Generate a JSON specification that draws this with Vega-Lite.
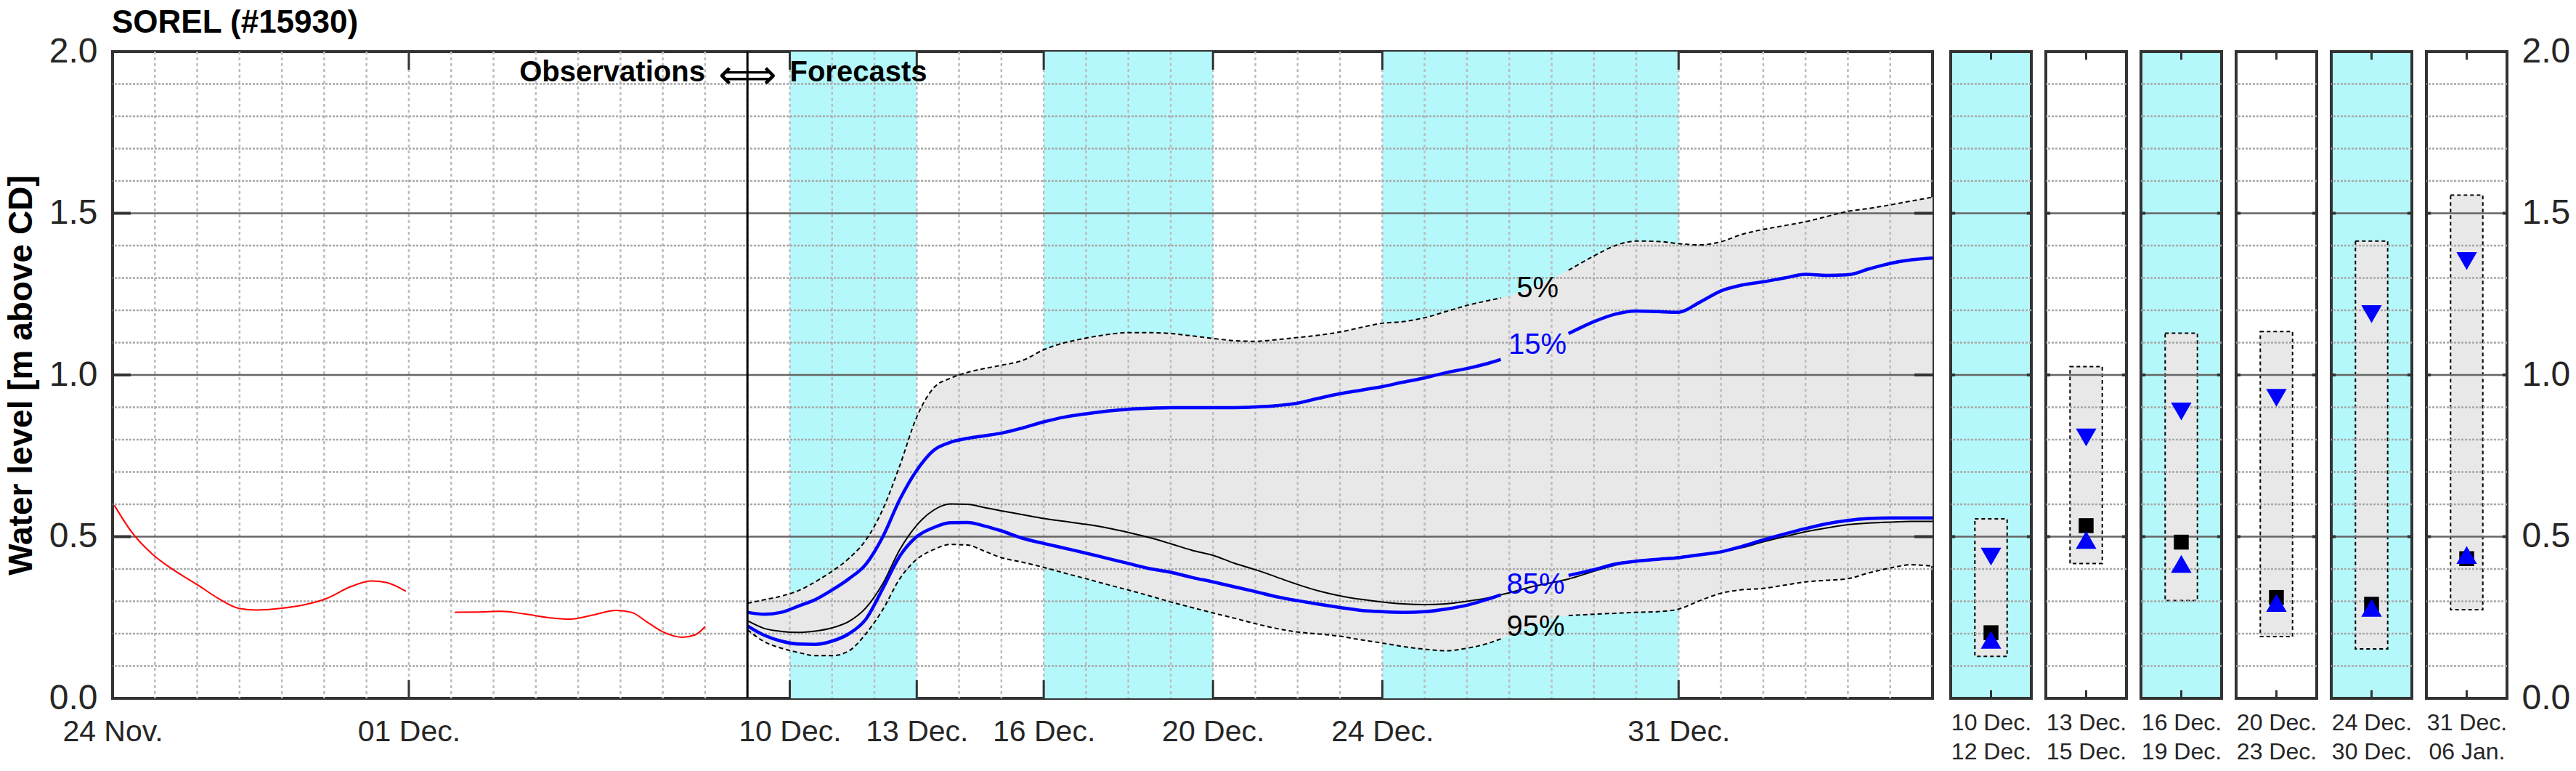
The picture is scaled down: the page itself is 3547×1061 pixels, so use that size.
{
 "$schema": "https://vega.github.io/schema/vega-lite/v6.json",
 "background": "white",
 "padding": {"left": 4, "top": 8, "right": 3, "bottom": 0},
 "config": {
  "font": "Liberation Sans",
  "view": {"stroke": "#333333", "strokeWidth": 4, "fill": "white"},
  "axis": {"domain": false, "ticks": false, "grid": false, "labelColor": "#262626", "titleColor": "#262626", "labelFont": "Liberation Sans", "titleFont": "Liberation Sans"}
 },
 "datasets": {
  "bands": [{"s": "2023-12-10T00:00", "e": "2023-12-13T00:00"}, {"s": "2023-12-16T00:00", "e": "2023-12-20T00:00"}, {"s": "2023-12-24T00:00", "e": "2023-12-31T00:00"}],
  "days": [{"t": "2023-11-25T00:00"}, {"t": "2023-11-26T00:00"}, {"t": "2023-11-27T00:00"}, {"t": "2023-11-28T00:00"}, {"t": "2023-11-29T00:00"}, {"t": "2023-11-30T00:00"}, {"t": "2023-12-01T00:00"}, {"t": "2023-12-02T00:00"}, {"t": "2023-12-03T00:00"}, {"t": "2023-12-04T00:00"}, {"t": "2023-12-05T00:00"}, {"t": "2023-12-06T00:00"}, {"t": "2023-12-07T00:00"}, {"t": "2023-12-08T00:00"}, {"t": "2023-12-09T00:00"}, {"t": "2023-12-10T00:00"}, {"t": "2023-12-11T00:00"}, {"t": "2023-12-12T00:00"}, {"t": "2023-12-13T00:00"}, {"t": "2023-12-14T00:00"}, {"t": "2023-12-15T00:00"}, {"t": "2023-12-16T00:00"}, {"t": "2023-12-17T00:00"}, {"t": "2023-12-18T00:00"}, {"t": "2023-12-19T00:00"}, {"t": "2023-12-20T00:00"}, {"t": "2023-12-21T00:00"}, {"t": "2023-12-22T00:00"}, {"t": "2023-12-23T00:00"}, {"t": "2023-12-24T00:00"}, {"t": "2023-12-25T00:00"}, {"t": "2023-12-26T00:00"}, {"t": "2023-12-27T00:00"}, {"t": "2023-12-28T00:00"}, {"t": "2023-12-29T00:00"}, {"t": "2023-12-30T00:00"}, {"t": "2023-12-31T00:00"}, {"t": "2024-01-01T00:00"}, {"t": "2024-01-02T00:00"}, {"t": "2024-01-03T00:00"}, {"t": "2024-01-04T00:00"}, {"t": "2024-01-05T00:00"}],
  "hminor": [{"v": 0.1}, {"v": 0.2}, {"v": 0.3}, {"v": 0.4}, {"v": 0.6}, {"v": 0.7}, {"v": 0.8}, {"v": 0.9}, {"v": 1.1}, {"v": 1.2}, {"v": 1.3}, {"v": 1.4}, {"v": 1.6}, {"v": 1.7}, {"v": 1.8}, {"v": 1.9}],
  "hmajor": [{"v": 0.5}, {"v": 1.0}, {"v": 1.5}],
  "xticks": [{"t": "2023-12-01T00:00"}, {"t": "2023-12-10T00:00"}, {"t": "2023-12-13T00:00"}, {"t": "2023-12-16T00:00"}, {"t": "2023-12-20T00:00"}, {"t": "2023-12-24T00:00"}, {"t": "2023-12-31T00:00"}],
  "obs": [
   {"t": "2023-11-24T01:00", "v": 0.597, "seg": 1}, {"t": "2023-11-24T11:00", "v": 0.513, "seg": 1}, {"t": "2023-11-24T22:30", "v": 0.446, "seg": 1}, {"t": "2023-11-25T10:20", "v": 0.398, "seg": 1}, {"t": "2023-11-26T00:45", "v": 0.349, "seg": 1}, {"t": "2023-11-26T12:15", "v": 0.308, "seg": 1}, {"t": "2023-11-26T23:45", "v": 0.278, "seg": 1}, {"t": "2023-11-27T09:50", "v": 0.273, "seg": 1}, {"t": "2023-11-27T22:50", "v": 0.278, "seg": 1}, {"t": "2023-11-28T13:10", "v": 0.290, "seg": 1}, {"t": "2023-11-29T01:00", "v": 0.308, "seg": 1}, {"t": "2023-11-29T15:20", "v": 0.346, "seg": 1}, {"t": "2023-11-30T02:50", "v": 0.363, "seg": 1}, {"t": "2023-11-30T11:30", "v": 0.358, "seg": 1}, {"t": "2023-11-30T22:20", "v": 0.331, "seg": 1},
   {"t": "2023-12-02T02:00", "v": 0.266, "seg": 2}, {"t": "2023-12-02T15:35", "v": 0.267, "seg": 2}, {"t": "2023-12-03T04:30", "v": 0.269, "seg": 2}, {"t": "2023-12-03T17:30", "v": 0.261, "seg": 2}, {"t": "2023-12-04T08:00", "v": 0.249, "seg": 2}, {"t": "2023-12-04T19:40", "v": 0.245, "seg": 2}, {"t": "2023-12-05T07:10", "v": 0.256, "seg": 2}, {"t": "2023-12-05T21:35", "v": 0.272, "seg": 2}, {"t": "2023-12-06T06:15", "v": 0.266, "seg": 2}, {"t": "2023-12-06T14:50", "v": 0.237, "seg": 2}, {"t": "2023-12-06T23:30", "v": 0.207, "seg": 2}, {"t": "2023-12-07T11:00", "v": 0.189, "seg": 2}, {"t": "2023-12-07T18:15", "v": 0.196, "seg": 2}, {"t": "2023-12-08T00:00", "v": 0.222, "seg": 2}
  ],
  "fc": [
   {"t": "2023-12-09T00:00", "p5": 0.294, "p15": 0.266, "p50": 0.240, "p85": 0.224, "p95": 0.212},
   {"t": "2023-12-09T09:36", "p5": 0.305, "p15": 0.260, "p50": 0.216, "p85": 0.195, "p95": 0.175},
   {"t": "2023-12-09T19:12", "p5": 0.316, "p15": 0.266, "p50": 0.207, "p85": 0.177, "p95": 0.155},
   {"t": "2023-12-10T04:48", "p5": 0.333, "p15": 0.285, "p50": 0.204, "p85": 0.168, "p95": 0.142},
   {"t": "2023-12-10T14:24", "p5": 0.360, "p15": 0.305, "p50": 0.208, "p85": 0.167, "p95": 0.132},
   {"t": "2023-12-11T00:00", "p5": 0.393, "p15": 0.335, "p50": 0.218, "p85": 0.177, "p95": 0.132},
   {"t": "2023-12-11T09:36", "p5": 0.433, "p15": 0.370, "p50": 0.238, "p85": 0.200, "p95": 0.147},
   {"t": "2023-12-11T19:12", "p5": 0.490, "p15": 0.415, "p50": 0.280, "p85": 0.245, "p95": 0.200},
   {"t": "2023-12-12T04:48", "p5": 0.585, "p15": 0.500, "p50": 0.355, "p85": 0.340, "p95": 0.275},
   {"t": "2023-12-12T14:24", "p5": 0.720, "p15": 0.615, "p50": 0.460, "p85": 0.440, "p95": 0.370},
   {"t": "2023-12-13T00:00", "p5": 0.870, "p15": 0.705, "p50": 0.535, "p85": 0.500, "p95": 0.430},
   {"t": "2023-12-13T09:36", "p5": 0.960, "p15": 0.767, "p50": 0.582, "p85": 0.528, "p95": 0.460},
   {"t": "2023-12-13T19:12", "p5": 0.990, "p15": 0.792, "p50": 0.601, "p85": 0.543, "p95": 0.476},
   {"t": "2023-12-14T04:48", "p5": 1.008, "p15": 0.804, "p50": 0.600, "p85": 0.544, "p95": 0.474},
   {"t": "2023-12-14T14:24", "p5": 1.020, "p15": 0.812, "p50": 0.590, "p85": 0.533, "p95": 0.455},
   {"t": "2023-12-15T00:00", "p5": 1.030, "p15": 0.820, "p50": 0.580, "p85": 0.518, "p95": 0.435},
   {"t": "2023-12-15T12:00", "p5": 1.045, "p15": 0.836, "p50": 0.568, "p85": 0.495, "p95": 0.421},
   {"t": "2023-12-16T00:00", "p5": 1.078, "p15": 0.855, "p50": 0.556, "p85": 0.479, "p95": 0.405},
   {"t": "2023-12-16T12:00", "p5": 1.100, "p15": 0.870, "p50": 0.547, "p85": 0.464, "p95": 0.387},
   {"t": "2023-12-17T00:00", "p5": 1.114, "p15": 0.880, "p50": 0.538, "p85": 0.449, "p95": 0.370},
   {"t": "2023-12-17T12:00", "p5": 1.125, "p15": 0.888, "p50": 0.527, "p85": 0.433, "p95": 0.352},
   {"t": "2023-12-18T00:00", "p5": 1.131, "p15": 0.894, "p50": 0.513, "p85": 0.417, "p95": 0.335},
   {"t": "2023-12-18T12:00", "p5": 1.131, "p15": 0.897, "p50": 0.497, "p85": 0.401, "p95": 0.317},
   {"t": "2023-12-19T00:00", "p5": 1.128, "p15": 0.899, "p50": 0.478, "p85": 0.390, "p95": 0.298},
   {"t": "2023-12-19T12:00", "p5": 1.121, "p15": 0.899, "p50": 0.458, "p85": 0.374, "p95": 0.281},
   {"t": "2023-12-20T00:00", "p5": 1.113, "p15": 0.899, "p50": 0.442, "p85": 0.360, "p95": 0.264},
   {"t": "2023-12-20T12:00", "p5": 1.106, "p15": 0.899, "p50": 0.418, "p85": 0.345, "p95": 0.248},
   {"t": "2023-12-21T00:00", "p5": 1.104, "p15": 0.901, "p50": 0.398, "p85": 0.330, "p95": 0.231},
   {"t": "2023-12-21T12:00", "p5": 1.109, "p15": 0.905, "p50": 0.375, "p85": 0.314, "p95": 0.216},
   {"t": "2023-12-22T00:00", "p5": 1.116, "p15": 0.913, "p50": 0.352, "p85": 0.302, "p95": 0.205},
   {"t": "2023-12-22T12:00", "p5": 1.123, "p15": 0.928, "p50": 0.332, "p85": 0.291, "p95": 0.199},
   {"t": "2023-12-23T00:00", "p5": 1.133, "p15": 0.942, "p50": 0.317, "p85": 0.281, "p95": 0.192},
   {"t": "2023-12-23T12:00", "p5": 1.147, "p15": 0.953, "p50": 0.306, "p85": 0.272, "p95": 0.181},
   {"t": "2023-12-24T00:00", "p5": 1.160, "p15": 0.964, "p50": 0.298, "p85": 0.268, "p95": 0.171},
   {"t": "2023-12-24T12:00", "p5": 1.165, "p15": 0.978, "p50": 0.292, "p85": 0.266, "p95": 0.160},
   {"t": "2023-12-25T00:00", "p5": 1.177, "p15": 0.991, "p50": 0.290, "p85": 0.268, "p95": 0.152},
   {"t": "2023-12-25T12:00", "p5": 1.196, "p15": 1.007, "p50": 0.292, "p85": 0.276, "p95": 0.147},
   {"t": "2023-12-26T00:00", "p5": 1.215, "p15": 1.020, "p50": 0.300, "p85": 0.288, "p95": 0.155},
   {"t": "2023-12-26T12:00", "p5": 1.230, "p15": 1.036, "p50": 0.311, "p85": 0.307, "p95": 0.170},
   {"t": "2023-12-26T19:12", "p5": 1.238, "p15": 1.048, "p50": 0.320, "p85": 0.320, "p95": 0.184},
   {"t": "2023-12-27T14:24", "p5": null, "p15": null, "p50": 0.347, "p85": null, "p95": null},
   {"t": "2023-12-28T09:36", "p5": 1.324, "p15": 1.128, "p50": 0.369, "p85": 0.380, "p95": 0.256},
   {"t": "2023-12-29T00:00", "p5": 1.368, "p15": 1.165, "p50": 0.393, "p85": 0.398, "p95": 0.260},
   {"t": "2023-12-29T12:00", "p5": 1.400, "p15": 1.188, "p50": 0.412, "p85": 0.415, "p95": 0.263},
   {"t": "2023-12-30T00:00", "p5": 1.414, "p15": 1.198, "p50": 0.424, "p85": 0.424, "p95": 0.266},
   {"t": "2023-12-30T12:00", "p5": 1.413, "p15": 1.196, "p50": 0.431, "p85": 0.430, "p95": 0.268},
   {"t": "2023-12-31T00:00", "p5": 1.406, "p15": 1.194, "p50": 0.437, "p85": 0.435, "p95": 0.276},
   {"t": "2023-12-31T12:00", "p5": 1.402, "p15": 1.225, "p50": 0.445, "p85": 0.444, "p95": 0.302},
   {"t": "2024-01-01T00:00", "p5": 1.412, "p15": 1.260, "p50": 0.452, "p85": 0.453, "p95": 0.325},
   {"t": "2024-01-01T12:00", "p5": 1.435, "p15": 1.278, "p50": 0.466, "p85": 0.470, "p95": 0.336},
   {"t": "2024-01-02T00:00", "p5": 1.450, "p15": 1.288, "p50": 0.484, "p85": 0.490, "p95": 0.340},
   {"t": "2024-01-02T12:00", "p5": 1.462, "p15": 1.300, "p50": 0.500, "p85": 0.508, "p95": 0.350},
   {"t": "2024-01-03T00:00", "p5": 1.474, "p15": 1.311, "p50": 0.515, "p85": 0.525, "p95": 0.360},
   {"t": "2024-01-03T12:00", "p5": 1.490, "p15": 1.308, "p50": 0.527, "p85": 0.540, "p95": 0.365},
   {"t": "2024-01-04T00:00", "p5": 1.506, "p15": 1.310, "p50": 0.537, "p85": 0.550, "p95": 0.370},
   {"t": "2024-01-04T12:00", "p5": 1.515, "p15": 1.328, "p50": 0.542, "p85": 0.556, "p95": 0.388},
   {"t": "2024-01-05T00:00", "p5": 1.526, "p15": 1.345, "p50": 0.545, "p85": 0.558, "p95": 0.403},
   {"t": "2024-01-05T12:00", "p5": 1.538, "p15": 1.356, "p50": 0.547, "p85": 0.558, "p95": 0.413},
   {"t": "2024-01-06T00:00", "p5": 1.550, "p15": 1.362, "p50": 0.547, "p85": 0.558, "p95": 0.409}
  ],
  "pct": [
   {"t": "2023-12-27T16:00", "v": 1.268, "lab": "5%", "s": "p5"},
   {"t": "2023-12-27T16:00", "v": 1.093, "lab": "15%", "s": "p15"},
   {"t": "2023-12-27T15:00", "v": 0.350, "lab": "85%", "s": "p85"},
   {"t": "2023-12-27T15:00", "v": 0.220, "lab": "95%", "s": "p95"}
  ],
  "panels": [
   {"p": 1, "hi": 0.555, "lo": 0.130, "q15": 0.438, "q50": 0.203, "q85": 0.181},
   {"p": 2, "hi": 1.026, "lo": 0.417, "q15": 0.807, "q50": 0.534, "q85": 0.490},
   {"p": 3, "hi": 1.129, "lo": 0.302, "q15": 0.887, "q50": 0.483, "q85": 0.416},
   {"p": 4, "hi": 1.134, "lo": 0.191, "q15": 0.929, "q50": 0.312, "q85": 0.295},
   {"p": 5, "hi": 1.414, "lo": 0.153, "q15": 1.188, "q50": 0.291, "q85": 0.280},
   {"p": 6, "hi": 1.556, "lo": 0.274, "q15": 1.352, "q50": 0.432, "q85": 0.443}
  ]
 },
 "spacing": 25,
 "bounds": "flush",
 "hconcat": [
  {
   "width": 2506, "height": 890,
   "title": {"text": "SOREL (#15930)", "anchor": "start", "frame": "group", "fontSize": 44, "fontWeight": "bold", "color": "black", "baseline": "alphabetic", "offset": -42, "dx": -1, "font": "Liberation Sans"},
   "layer": [
    {"data": {"name": "bands"}, "mark": {"type": "rect", "color": "#b4f8fb"},
     "encoding": {"x": {"field": "s", "type": "temporal", "scale": {"domain": [{"year": 2023, "month": 11, "date": 24}, {"year": 2024, "month": 1, "date": 6}], "nice": false},
       "axis": {"orient": "bottom", "values": [{"year": 2023, "month": 11, "date": 24}, {"year": 2023, "month": 12, "date": 1}, {"year": 2023, "month": 12, "date": 10}, {"year": 2023, "month": 12, "date": 13}, {"year": 2023, "month": 12, "date": 16}, {"year": 2023, "month": 12, "date": 20}, {"year": 2023, "month": 12, "date": 24}, {"year": 2023, "month": 12, "date": 31}], "labelExpr": "timeFormat(datum.value, '%d %b.')", "labelFontSize": 41, "labelPadding": 26, "labelFlush": false, "labelOverlap": false, "labelBound": false, "title": null, "domain": false, "ticks": false, "grid": false}},
      "x2": {"field": "e"}}},
    {"data": {"name": "fc"}, "mark": {"type": "area", "color": "#e8e8e8", "interpolate": "monotone", "invalid": "filter"},
     "encoding": {"x": {"field": "t", "type": "temporal", "scale": {"domain": [{"year": 2023, "month": 11, "date": 24}, {"year": 2024, "month": 1, "date": 6}], "nice": false}},
      "y": {"field": "p95", "type": "quantitative", "scale": {"domain": [0, 2], "nice": false},
       "axis": {"orient": "left", "values": [0, 0.5, 1, 1.5, 2], "format": ".1f", "labelFontSize": 48, "labelPadding": 21, "title": "Water level [m above CD]", "titleFontSize": 46, "titleFontWeight": "bold", "titleColor": "black", "titlePadding": 14, "domain": false, "ticks": false, "grid": false}}, "y2": {"field": "p5"}}},
    {"data": {"name": "days"}, "mark": {"type": "rule", "color": "#bdbdbd", "strokeWidth": 2.5, "strokeDash": [4, 4]},
     "encoding": {"x": {"field": "t", "type": "temporal", "scale": {"domain": [{"year": 2023, "month": 11, "date": 24}, {"year": 2024, "month": 1, "date": 6}], "nice": false}}}},
    {"data": {"name": "hminor"}, "mark": {"type": "rule", "color": "#a8a8a8", "strokeWidth": 2.5, "strokeDash": [3, 2]},
     "encoding": {"y": {"field": "v", "type": "quantitative", "scale": {"domain": [0, 2], "nice": false}}}},
    {"data": {"name": "hmajor"}, "mark": {"type": "rule", "color": "#666666", "strokeWidth": 2.5},
     "encoding": {"y": {"field": "v", "type": "quantitative", "scale": {"domain": [0, 2], "nice": false}}}},
    {"data": {"name": "obs"}, "mark": {"type": "line", "color": "#ff0000", "strokeWidth": 2, "interpolate": "monotone"},
     "encoding": {"x": {"field": "t", "type": "temporal", "scale": {"domain": [{"year": 2023, "month": 11, "date": 24}, {"year": 2024, "month": 1, "date": 6}], "nice": false}},
      "y": {"field": "v", "type": "quantitative", "scale": {"domain": [0, 2], "nice": false}}, "detail": {"field": "seg", "type": "nominal"}}},
    {"data": {"name": "fc"}, "mark": {"type": "line", "color": "#000000", "strokeWidth": 2, "strokeDash": [6, 4], "interpolate": "monotone"},
     "encoding": {"x": {"field": "t", "type": "temporal", "scale": {"domain": [{"year": 2023, "month": 11, "date": 24}, {"year": 2024, "month": 1, "date": 6}], "nice": false}},
      "y": {"field": "p95", "type": "quantitative", "scale": {"domain": [0, 2], "nice": false}}}},
    {"data": {"name": "fc"}, "mark": {"type": "line", "color": "#000000", "strokeWidth": 2, "strokeDash": [6, 4], "interpolate": "monotone"},
     "encoding": {"x": {"field": "t", "type": "temporal", "scale": {"domain": [{"year": 2023, "month": 11, "date": 24}, {"year": 2024, "month": 1, "date": 6}], "nice": false}},
      "y": {"field": "p5", "type": "quantitative", "scale": {"domain": [0, 2], "nice": false}}}},
    {"data": {"name": "fc"}, "mark": {"type": "line", "color": "#000000", "strokeWidth": 2, "interpolate": "monotone"},
     "encoding": {"x": {"field": "t", "type": "temporal", "scale": {"domain": [{"year": 2023, "month": 11, "date": 24}, {"year": 2024, "month": 1, "date": 6}], "nice": false}},
      "y": {"field": "p50", "type": "quantitative", "scale": {"domain": [0, 2], "nice": false}}}},
    {"data": {"name": "fc"}, "mark": {"type": "line", "color": "#0000ff", "strokeWidth": 4.5, "interpolate": "monotone"},
     "encoding": {"x": {"field": "t", "type": "temporal", "scale": {"domain": [{"year": 2023, "month": 11, "date": 24}, {"year": 2024, "month": 1, "date": 6}], "nice": false}},
      "y": {"field": "p85", "type": "quantitative", "scale": {"domain": [0, 2], "nice": false}}}},
    {"data": {"name": "fc"}, "mark": {"type": "line", "color": "#0000ff", "strokeWidth": 4.5, "interpolate": "monotone"},
     "encoding": {"x": {"field": "t", "type": "temporal", "scale": {"domain": [{"year": 2023, "month": 11, "date": 24}, {"year": 2024, "month": 1, "date": 6}], "nice": false}},
      "y": {"field": "p15", "type": "quantitative", "scale": {"domain": [0, 2], "nice": false}}}},
    {"data": {"name": "pct"}, "mark": {"type": "text", "fontSize": 40, "align": "center", "baseline": "middle", "font": "Liberation Sans"},
     "encoding": {"x": {"field": "t", "type": "temporal", "scale": {"domain": [{"year": 2023, "month": 11, "date": 24}, {"year": 2024, "month": 1, "date": 6}], "nice": false}},
      "y": {"field": "v", "type": "quantitative", "scale": {"domain": [0, 2], "nice": false}},
      "text": {"field": "lab"},
      "color": {"field": "s", "type": "nominal", "scale": {"domain": ["p5", "p15", "p85", "p95"], "range": ["#000000", "#0000ff", "#0000ff", "#000000"]}, "legend": null}}},
    {"data": {"values": [{}]}, "mark": {"type": "rule", "color": "#000000", "strokeWidth": 3},
     "encoding": {"x": {"datum": {"year": 2023, "month": 12, "date": 9}, "type": "temporal", "scale": {"domain": [{"year": 2023, "month": 11, "date": 24}, {"year": 2024, "month": 1, "date": 6}], "nice": false}}}},
    {"data": {"name": "xticks"}, "mark": {"type": "rule", "color": "#333333", "strokeWidth": 3},
     "encoding": {"x": {"field": "t", "type": "temporal", "scale": {"domain": [{"year": 2023, "month": 11, "date": 24}, {"year": 2024, "month": 1, "date": 6}], "nice": false}},
      "y": {"datum": 0, "type": "quantitative", "scale": {"domain": [0, 2], "nice": false}}, "y2": {"datum": 0.056}}},
    {"data": {"name": "xticks"}, "mark": {"type": "rule", "color": "#333333", "strokeWidth": 3},
     "encoding": {"x": {"field": "t", "type": "temporal", "scale": {"domain": [{"year": 2023, "month": 11, "date": 24}, {"year": 2024, "month": 1, "date": 6}], "nice": false}},
      "y": {"datum": 1.944, "type": "quantitative", "scale": {"domain": [0, 2], "nice": false}}, "y2": {"datum": 2}}},
    {"data": {"name": "hmajor"}, "mark": {"type": "rule", "color": "#333333", "strokeWidth": 4},
     "encoding": {"x": {"datum": {"year": 2023, "month": 11, "date": 24}, "type": "temporal", "scale": {"domain": [{"year": 2023, "month": 11, "date": 24}, {"year": 2024, "month": 1, "date": 6}], "nice": false}},
      "x2": {"datum": {"year": 2023, "month": 11, "date": 24, "hours": 10, "minutes": 18}},
      "y": {"field": "v", "type": "quantitative", "scale": {"domain": [0, 2], "nice": false}}}},
    {"data": {"name": "hmajor"}, "mark": {"type": "rule", "color": "#333333", "strokeWidth": 4},
     "encoding": {"x": {"datum": {"year": 2024, "month": 1, "date": 5, "hours": 13, "minutes": 42}, "type": "temporal", "scale": {"domain": [{"year": 2023, "month": 11, "date": 24}, {"year": 2024, "month": 1, "date": 6}], "nice": false}},
      "x2": {"datum": {"year": 2024, "month": 1, "date": 6}},
      "y": {"field": "v", "type": "quantitative", "scale": {"domain": [0, 2], "nice": false}}}},
    {"data": {"values": [{"t": "2023-12-08T00:00", "v": 1.908, "txt": "Observations"}]}, "mark": {"type": "text", "fontSize": 40, "fontWeight": "bold", "align": "right", "baseline": "alphabetic", "color": "#000000", "font": "Liberation Sans"},
     "encoding": {"x": {"field": "t", "type": "temporal", "scale": {"domain": [{"year": 2023, "month": 11, "date": 24}, {"year": 2024, "month": 1, "date": 6}], "nice": false}},
      "y": {"field": "v", "type": "quantitative", "scale": {"domain": [0, 2], "nice": false}}, "text": {"field": "txt"}}},
    {"data": {"values": [{"t": "2023-12-09T00:00", "v": 1.885, "txt": "⟺"}]}, "mark": {"type": "text", "fontSize": 56, "align": "center", "baseline": "alphabetic", "color": "#000000", "font": "DejaVu Sans"},
     "encoding": {"x": {"field": "t", "type": "temporal", "scale": {"domain": [{"year": 2023, "month": 11, "date": 24}, {"year": 2024, "month": 1, "date": 6}], "nice": false}},
      "y": {"field": "v", "type": "quantitative", "scale": {"domain": [0, 2], "nice": false}}, "text": {"field": "txt"}}},
    {"data": {"values": [{"t": "2023-12-10T00:00", "v": 1.908, "txt": "Forecasts"}]}, "mark": {"type": "text", "fontSize": 40, "fontWeight": "bold", "align": "left", "baseline": "alphabetic", "color": "#000000", "font": "Liberation Sans"},
     "encoding": {"x": {"field": "t", "type": "temporal", "scale": {"domain": [{"year": 2023, "month": 11, "date": 24}, {"year": 2024, "month": 1, "date": 6}], "nice": false}},
      "y": {"field": "v", "type": "quantitative", "scale": {"domain": [0, 2], "nice": false}}, "text": {"field": "txt"}}}
   ]
  },
  {
   "spacing": 20,
   "bounds": "flush",
   "hconcat": [
    {
     "width": 111, "height": 890, "view": {"fill": "#b4f8fb", "stroke": "#333333", "strokeWidth": 4},
     "layer": [
      {"data": {"name": "panels"}, "transform": [{"filter": "datum.p == 1"}], "mark": {"type": "rect", "fill": "#e8e8e8", "stroke": "#000000", "strokeWidth": 2, "strokeDash": [5, 4]},
       "encoding": {"x": {"datum": 0.3, "type": "quantitative", "scale": {"domain": [0, 1], "nice": false}, "axis": {"orient": "bottom", "labels": false, "domain": false, "ticks": false, "grid": false, "title": ["10 Dec.", "12 Dec."], "titleFontSize": 32, "titleFontWeight": "normal", "titleLineHeight": 40, "titlePadding": 18}}, "x2": {"datum": 0.7}, "y": {"field": "lo", "type": "quantitative", "scale": {"domain": [0, 2], "nice": false}, "axis": null}, "y2": {"field": "hi"}}},
      {"data": {"name": "hminor"}, "mark": {"type": "rule", "color": "#a8a8a8", "strokeWidth": 2.5, "strokeDash": [3, 2]}, "encoding": {"y": {"field": "v", "type": "quantitative", "scale": {"domain": [0, 2], "nice": false}, "axis": null}}},
      {"data": {"name": "hmajor"}, "mark": {"type": "rule", "color": "#666666", "strokeWidth": 2.5}, "encoding": {"y": {"field": "v", "type": "quantitative", "scale": {"domain": [0, 2], "nice": false}, "axis": null}}},
      {"data": {"name": "panels"}, "transform": [{"filter": "datum.p == 1"}], "mark": {"type": "point", "shape": "triangle-down", "filled": true, "color": "#0000ff", "size": 800, "opacity": 1}, "encoding": {"x": {"datum": 0.5, "type": "quantitative", "scale": {"domain": [0, 1], "nice": false}}, "y": {"field": "q15", "type": "quantitative", "scale": {"domain": [0, 2], "nice": false}, "axis": null}}},
      {"data": {"name": "panels"}, "transform": [{"filter": "datum.p == 1"}], "mark": {"type": "point", "shape": "square", "filled": true, "color": "#000000", "size": 420, "opacity": 1}, "encoding": {"x": {"datum": 0.5, "type": "quantitative", "scale": {"domain": [0, 1], "nice": false}}, "y": {"field": "q50", "type": "quantitative", "scale": {"domain": [0, 2], "nice": false}, "axis": null}}},
      {"data": {"name": "panels"}, "transform": [{"filter": "datum.p == 1"}], "mark": {"type": "point", "shape": "triangle-up", "filled": true, "color": "#0000ff", "size": 800, "opacity": 1}, "encoding": {"x": {"datum": 0.5, "type": "quantitative", "scale": {"domain": [0, 1], "nice": false}}, "y": {"field": "q85", "type": "quantitative", "scale": {"domain": [0, 2], "nice": false}, "axis": null}}},
      {"data": {"values": [{}]}, "mark": {"type": "rule", "color": "#333333", "strokeWidth": 3}, "encoding": {"x": {"datum": 0.5, "type": "quantitative", "scale": {"domain": [0, 1], "nice": false}}, "y": {"datum": 0, "type": "quantitative", "scale": {"domain": [0, 2], "nice": false}, "axis": null}, "y2": {"datum": 0.025}}},
      {"data": {"values": [{}]}, "mark": {"type": "rule", "color": "#333333", "strokeWidth": 3}, "encoding": {"x": {"datum": 0.5, "type": "quantitative", "scale": {"domain": [0, 1], "nice": false}}, "y": {"datum": 1.975, "type": "quantitative", "scale": {"domain": [0, 2], "nice": false}, "axis": null}, "y2": {"datum": 2}}},
      {"data": {"name": "hmajor"}, "mark": {"type": "rule", "color": "#333333", "strokeWidth": 4}, "encoding": {"x": {"datum": 0, "type": "quantitative", "scale": {"domain": [0, 1], "nice": false}}, "x2": {"datum": 0.055}, "y": {"field": "v", "type": "quantitative", "scale": {"domain": [0, 2], "nice": false}, "axis": null}}},
      {"data": {"name": "hmajor"}, "mark": {"type": "rule", "color": "#333333", "strokeWidth": 4}, "encoding": {"x": {"datum": 0.945, "type": "quantitative", "scale": {"domain": [0, 1], "nice": false}}, "x2": {"datum": 1}, "y": {"field": "v", "type": "quantitative", "scale": {"domain": [0, 2], "nice": false}, "axis": null}}}
     ]
    },
    {
     "width": 111, "height": 890, "view": {"fill": "white", "stroke": "#333333", "strokeWidth": 4},
     "layer": [
      {"data": {"name": "panels"}, "transform": [{"filter": "datum.p == 2"}], "mark": {"type": "rect", "fill": "#e8e8e8", "stroke": "#000000", "strokeWidth": 2, "strokeDash": [5, 4]},
       "encoding": {"x": {"datum": 0.3, "type": "quantitative", "scale": {"domain": [0, 1], "nice": false}, "axis": {"orient": "bottom", "labels": false, "domain": false, "ticks": false, "grid": false, "title": ["13 Dec.", "15 Dec."], "titleFontSize": 32, "titleFontWeight": "normal", "titleLineHeight": 40, "titlePadding": 18}}, "x2": {"datum": 0.7}, "y": {"field": "lo", "type": "quantitative", "scale": {"domain": [0, 2], "nice": false}, "axis": null}, "y2": {"field": "hi"}}},
      {"data": {"name": "hminor"}, "mark": {"type": "rule", "color": "#a8a8a8", "strokeWidth": 2.5, "strokeDash": [3, 2]}, "encoding": {"y": {"field": "v", "type": "quantitative", "scale": {"domain": [0, 2], "nice": false}, "axis": null}}},
      {"data": {"name": "hmajor"}, "mark": {"type": "rule", "color": "#666666", "strokeWidth": 2.5}, "encoding": {"y": {"field": "v", "type": "quantitative", "scale": {"domain": [0, 2], "nice": false}, "axis": null}}},
      {"data": {"name": "panels"}, "transform": [{"filter": "datum.p == 2"}], "mark": {"type": "point", "shape": "triangle-down", "filled": true, "color": "#0000ff", "size": 800, "opacity": 1}, "encoding": {"x": {"datum": 0.5, "type": "quantitative", "scale": {"domain": [0, 1], "nice": false}}, "y": {"field": "q15", "type": "quantitative", "scale": {"domain": [0, 2], "nice": false}, "axis": null}}},
      {"data": {"name": "panels"}, "transform": [{"filter": "datum.p == 2"}], "mark": {"type": "point", "shape": "square", "filled": true, "color": "#000000", "size": 420, "opacity": 1}, "encoding": {"x": {"datum": 0.5, "type": "quantitative", "scale": {"domain": [0, 1], "nice": false}}, "y": {"field": "q50", "type": "quantitative", "scale": {"domain": [0, 2], "nice": false}, "axis": null}}},
      {"data": {"name": "panels"}, "transform": [{"filter": "datum.p == 2"}], "mark": {"type": "point", "shape": "triangle-up", "filled": true, "color": "#0000ff", "size": 800, "opacity": 1}, "encoding": {"x": {"datum": 0.5, "type": "quantitative", "scale": {"domain": [0, 1], "nice": false}}, "y": {"field": "q85", "type": "quantitative", "scale": {"domain": [0, 2], "nice": false}, "axis": null}}},
      {"data": {"values": [{}]}, "mark": {"type": "rule", "color": "#333333", "strokeWidth": 3}, "encoding": {"x": {"datum": 0.5, "type": "quantitative", "scale": {"domain": [0, 1], "nice": false}}, "y": {"datum": 0, "type": "quantitative", "scale": {"domain": [0, 2], "nice": false}, "axis": null}, "y2": {"datum": 0.025}}},
      {"data": {"values": [{}]}, "mark": {"type": "rule", "color": "#333333", "strokeWidth": 3}, "encoding": {"x": {"datum": 0.5, "type": "quantitative", "scale": {"domain": [0, 1], "nice": false}}, "y": {"datum": 1.975, "type": "quantitative", "scale": {"domain": [0, 2], "nice": false}, "axis": null}, "y2": {"datum": 2}}},
      {"data": {"name": "hmajor"}, "mark": {"type": "rule", "color": "#333333", "strokeWidth": 4}, "encoding": {"x": {"datum": 0, "type": "quantitative", "scale": {"domain": [0, 1], "nice": false}}, "x2": {"datum": 0.055}, "y": {"field": "v", "type": "quantitative", "scale": {"domain": [0, 2], "nice": false}, "axis": null}}},
      {"data": {"name": "hmajor"}, "mark": {"type": "rule", "color": "#333333", "strokeWidth": 4}, "encoding": {"x": {"datum": 0.945, "type": "quantitative", "scale": {"domain": [0, 1], "nice": false}}, "x2": {"datum": 1}, "y": {"field": "v", "type": "quantitative", "scale": {"domain": [0, 2], "nice": false}, "axis": null}}}
     ]
    },
    {
     "width": 111, "height": 890, "view": {"fill": "#b4f8fb", "stroke": "#333333", "strokeWidth": 4},
     "layer": [
      {"data": {"name": "panels"}, "transform": [{"filter": "datum.p == 3"}], "mark": {"type": "rect", "fill": "#e8e8e8", "stroke": "#000000", "strokeWidth": 2, "strokeDash": [5, 4]},
       "encoding": {"x": {"datum": 0.3, "type": "quantitative", "scale": {"domain": [0, 1], "nice": false}, "axis": {"orient": "bottom", "labels": false, "domain": false, "ticks": false, "grid": false, "title": ["16 Dec.", "19 Dec."], "titleFontSize": 32, "titleFontWeight": "normal", "titleLineHeight": 40, "titlePadding": 18}}, "x2": {"datum": 0.7}, "y": {"field": "lo", "type": "quantitative", "scale": {"domain": [0, 2], "nice": false}, "axis": null}, "y2": {"field": "hi"}}},
      {"data": {"name": "hminor"}, "mark": {"type": "rule", "color": "#a8a8a8", "strokeWidth": 2.5, "strokeDash": [3, 2]}, "encoding": {"y": {"field": "v", "type": "quantitative", "scale": {"domain": [0, 2], "nice": false}, "axis": null}}},
      {"data": {"name": "hmajor"}, "mark": {"type": "rule", "color": "#666666", "strokeWidth": 2.5}, "encoding": {"y": {"field": "v", "type": "quantitative", "scale": {"domain": [0, 2], "nice": false}, "axis": null}}},
      {"data": {"name": "panels"}, "transform": [{"filter": "datum.p == 3"}], "mark": {"type": "point", "shape": "triangle-down", "filled": true, "color": "#0000ff", "size": 800, "opacity": 1}, "encoding": {"x": {"datum": 0.5, "type": "quantitative", "scale": {"domain": [0, 1], "nice": false}}, "y": {"field": "q15", "type": "quantitative", "scale": {"domain": [0, 2], "nice": false}, "axis": null}}},
      {"data": {"name": "panels"}, "transform": [{"filter": "datum.p == 3"}], "mark": {"type": "point", "shape": "square", "filled": true, "color": "#000000", "size": 420, "opacity": 1}, "encoding": {"x": {"datum": 0.5, "type": "quantitative", "scale": {"domain": [0, 1], "nice": false}}, "y": {"field": "q50", "type": "quantitative", "scale": {"domain": [0, 2], "nice": false}, "axis": null}}},
      {"data": {"name": "panels"}, "transform": [{"filter": "datum.p == 3"}], "mark": {"type": "point", "shape": "triangle-up", "filled": true, "color": "#0000ff", "size": 800, "opacity": 1}, "encoding": {"x": {"datum": 0.5, "type": "quantitative", "scale": {"domain": [0, 1], "nice": false}}, "y": {"field": "q85", "type": "quantitative", "scale": {"domain": [0, 2], "nice": false}, "axis": null}}},
      {"data": {"values": [{}]}, "mark": {"type": "rule", "color": "#333333", "strokeWidth": 3}, "encoding": {"x": {"datum": 0.5, "type": "quantitative", "scale": {"domain": [0, 1], "nice": false}}, "y": {"datum": 0, "type": "quantitative", "scale": {"domain": [0, 2], "nice": false}, "axis": null}, "y2": {"datum": 0.025}}},
      {"data": {"values": [{}]}, "mark": {"type": "rule", "color": "#333333", "strokeWidth": 3}, "encoding": {"x": {"datum": 0.5, "type": "quantitative", "scale": {"domain": [0, 1], "nice": false}}, "y": {"datum": 1.975, "type": "quantitative", "scale": {"domain": [0, 2], "nice": false}, "axis": null}, "y2": {"datum": 2}}},
      {"data": {"name": "hmajor"}, "mark": {"type": "rule", "color": "#333333", "strokeWidth": 4}, "encoding": {"x": {"datum": 0, "type": "quantitative", "scale": {"domain": [0, 1], "nice": false}}, "x2": {"datum": 0.055}, "y": {"field": "v", "type": "quantitative", "scale": {"domain": [0, 2], "nice": false}, "axis": null}}},
      {"data": {"name": "hmajor"}, "mark": {"type": "rule", "color": "#333333", "strokeWidth": 4}, "encoding": {"x": {"datum": 0.945, "type": "quantitative", "scale": {"domain": [0, 1], "nice": false}}, "x2": {"datum": 1}, "y": {"field": "v", "type": "quantitative", "scale": {"domain": [0, 2], "nice": false}, "axis": null}}}
     ]
    },
    {
     "width": 111, "height": 890, "view": {"fill": "white", "stroke": "#333333", "strokeWidth": 4},
     "layer": [
      {"data": {"name": "panels"}, "transform": [{"filter": "datum.p == 4"}], "mark": {"type": "rect", "fill": "#e8e8e8", "stroke": "#000000", "strokeWidth": 2, "strokeDash": [5, 4]},
       "encoding": {"x": {"datum": 0.3, "type": "quantitative", "scale": {"domain": [0, 1], "nice": false}, "axis": {"orient": "bottom", "labels": false, "domain": false, "ticks": false, "grid": false, "title": ["20 Dec.", "23 Dec."], "titleFontSize": 32, "titleFontWeight": "normal", "titleLineHeight": 40, "titlePadding": 18}}, "x2": {"datum": 0.7}, "y": {"field": "lo", "type": "quantitative", "scale": {"domain": [0, 2], "nice": false}, "axis": null}, "y2": {"field": "hi"}}},
      {"data": {"name": "hminor"}, "mark": {"type": "rule", "color": "#a8a8a8", "strokeWidth": 2.5, "strokeDash": [3, 2]}, "encoding": {"y": {"field": "v", "type": "quantitative", "scale": {"domain": [0, 2], "nice": false}, "axis": null}}},
      {"data": {"name": "hmajor"}, "mark": {"type": "rule", "color": "#666666", "strokeWidth": 2.5}, "encoding": {"y": {"field": "v", "type": "quantitative", "scale": {"domain": [0, 2], "nice": false}, "axis": null}}},
      {"data": {"name": "panels"}, "transform": [{"filter": "datum.p == 4"}], "mark": {"type": "point", "shape": "triangle-down", "filled": true, "color": "#0000ff", "size": 800, "opacity": 1}, "encoding": {"x": {"datum": 0.5, "type": "quantitative", "scale": {"domain": [0, 1], "nice": false}}, "y": {"field": "q15", "type": "quantitative", "scale": {"domain": [0, 2], "nice": false}, "axis": null}}},
      {"data": {"name": "panels"}, "transform": [{"filter": "datum.p == 4"}], "mark": {"type": "point", "shape": "square", "filled": true, "color": "#000000", "size": 420, "opacity": 1}, "encoding": {"x": {"datum": 0.5, "type": "quantitative", "scale": {"domain": [0, 1], "nice": false}}, "y": {"field": "q50", "type": "quantitative", "scale": {"domain": [0, 2], "nice": false}, "axis": null}}},
      {"data": {"name": "panels"}, "transform": [{"filter": "datum.p == 4"}], "mark": {"type": "point", "shape": "triangle-up", "filled": true, "color": "#0000ff", "size": 800, "opacity": 1}, "encoding": {"x": {"datum": 0.5, "type": "quantitative", "scale": {"domain": [0, 1], "nice": false}}, "y": {"field": "q85", "type": "quantitative", "scale": {"domain": [0, 2], "nice": false}, "axis": null}}},
      {"data": {"values": [{}]}, "mark": {"type": "rule", "color": "#333333", "strokeWidth": 3}, "encoding": {"x": {"datum": 0.5, "type": "quantitative", "scale": {"domain": [0, 1], "nice": false}}, "y": {"datum": 0, "type": "quantitative", "scale": {"domain": [0, 2], "nice": false}, "axis": null}, "y2": {"datum": 0.025}}},
      {"data": {"values": [{}]}, "mark": {"type": "rule", "color": "#333333", "strokeWidth": 3}, "encoding": {"x": {"datum": 0.5, "type": "quantitative", "scale": {"domain": [0, 1], "nice": false}}, "y": {"datum": 1.975, "type": "quantitative", "scale": {"domain": [0, 2], "nice": false}, "axis": null}, "y2": {"datum": 2}}},
      {"data": {"name": "hmajor"}, "mark": {"type": "rule", "color": "#333333", "strokeWidth": 4}, "encoding": {"x": {"datum": 0, "type": "quantitative", "scale": {"domain": [0, 1], "nice": false}}, "x2": {"datum": 0.055}, "y": {"field": "v", "type": "quantitative", "scale": {"domain": [0, 2], "nice": false}, "axis": null}}},
      {"data": {"name": "hmajor"}, "mark": {"type": "rule", "color": "#333333", "strokeWidth": 4}, "encoding": {"x": {"datum": 0.945, "type": "quantitative", "scale": {"domain": [0, 1], "nice": false}}, "x2": {"datum": 1}, "y": {"field": "v", "type": "quantitative", "scale": {"domain": [0, 2], "nice": false}, "axis": null}}}
     ]
    },
    {
     "width": 111, "height": 890, "view": {"fill": "#b4f8fb", "stroke": "#333333", "strokeWidth": 4},
     "layer": [
      {"data": {"name": "panels"}, "transform": [{"filter": "datum.p == 5"}], "mark": {"type": "rect", "fill": "#e8e8e8", "stroke": "#000000", "strokeWidth": 2, "strokeDash": [5, 4]},
       "encoding": {"x": {"datum": 0.3, "type": "quantitative", "scale": {"domain": [0, 1], "nice": false}, "axis": {"orient": "bottom", "labels": false, "domain": false, "ticks": false, "grid": false, "title": ["24 Dec.", "30 Dec."], "titleFontSize": 32, "titleFontWeight": "normal", "titleLineHeight": 40, "titlePadding": 18}}, "x2": {"datum": 0.7}, "y": {"field": "lo", "type": "quantitative", "scale": {"domain": [0, 2], "nice": false}, "axis": null}, "y2": {"field": "hi"}}},
      {"data": {"name": "hminor"}, "mark": {"type": "rule", "color": "#a8a8a8", "strokeWidth": 2.5, "strokeDash": [3, 2]}, "encoding": {"y": {"field": "v", "type": "quantitative", "scale": {"domain": [0, 2], "nice": false}, "axis": null}}},
      {"data": {"name": "hmajor"}, "mark": {"type": "rule", "color": "#666666", "strokeWidth": 2.5}, "encoding": {"y": {"field": "v", "type": "quantitative", "scale": {"domain": [0, 2], "nice": false}, "axis": null}}},
      {"data": {"name": "panels"}, "transform": [{"filter": "datum.p == 5"}], "mark": {"type": "point", "shape": "triangle-down", "filled": true, "color": "#0000ff", "size": 800, "opacity": 1}, "encoding": {"x": {"datum": 0.5, "type": "quantitative", "scale": {"domain": [0, 1], "nice": false}}, "y": {"field": "q15", "type": "quantitative", "scale": {"domain": [0, 2], "nice": false}, "axis": null}}},
      {"data": {"name": "panels"}, "transform": [{"filter": "datum.p == 5"}], "mark": {"type": "point", "shape": "square", "filled": true, "color": "#000000", "size": 420, "opacity": 1}, "encoding": {"x": {"datum": 0.5, "type": "quantitative", "scale": {"domain": [0, 1], "nice": false}}, "y": {"field": "q50", "type": "quantitative", "scale": {"domain": [0, 2], "nice": false}, "axis": null}}},
      {"data": {"name": "panels"}, "transform": [{"filter": "datum.p == 5"}], "mark": {"type": "point", "shape": "triangle-up", "filled": true, "color": "#0000ff", "size": 800, "opacity": 1}, "encoding": {"x": {"datum": 0.5, "type": "quantitative", "scale": {"domain": [0, 1], "nice": false}}, "y": {"field": "q85", "type": "quantitative", "scale": {"domain": [0, 2], "nice": false}, "axis": null}}},
      {"data": {"values": [{}]}, "mark": {"type": "rule", "color": "#333333", "strokeWidth": 3}, "encoding": {"x": {"datum": 0.5, "type": "quantitative", "scale": {"domain": [0, 1], "nice": false}}, "y": {"datum": 0, "type": "quantitative", "scale": {"domain": [0, 2], "nice": false}, "axis": null}, "y2": {"datum": 0.025}}},
      {"data": {"values": [{}]}, "mark": {"type": "rule", "color": "#333333", "strokeWidth": 3}, "encoding": {"x": {"datum": 0.5, "type": "quantitative", "scale": {"domain": [0, 1], "nice": false}}, "y": {"datum": 1.975, "type": "quantitative", "scale": {"domain": [0, 2], "nice": false}, "axis": null}, "y2": {"datum": 2}}},
      {"data": {"name": "hmajor"}, "mark": {"type": "rule", "color": "#333333", "strokeWidth": 4}, "encoding": {"x": {"datum": 0, "type": "quantitative", "scale": {"domain": [0, 1], "nice": false}}, "x2": {"datum": 0.055}, "y": {"field": "v", "type": "quantitative", "scale": {"domain": [0, 2], "nice": false}, "axis": null}}},
      {"data": {"name": "hmajor"}, "mark": {"type": "rule", "color": "#333333", "strokeWidth": 4}, "encoding": {"x": {"datum": 0.945, "type": "quantitative", "scale": {"domain": [0, 1], "nice": false}}, "x2": {"datum": 1}, "y": {"field": "v", "type": "quantitative", "scale": {"domain": [0, 2], "nice": false}, "axis": null}}}
     ]
    },
    {
     "width": 111, "height": 890, "view": {"fill": "white", "stroke": "#333333", "strokeWidth": 4},
     "layer": [
      {"data": {"name": "panels"}, "transform": [{"filter": "datum.p == 6"}], "mark": {"type": "rect", "fill": "#e8e8e8", "stroke": "#000000", "strokeWidth": 2, "strokeDash": [5, 4]},
       "encoding": {"x": {"datum": 0.3, "type": "quantitative", "scale": {"domain": [0, 1], "nice": false}, "axis": {"orient": "bottom", "labels": false, "domain": false, "ticks": false, "grid": false, "title": ["31 Dec.", "06 Jan."], "titleFontSize": 32, "titleFontWeight": "normal", "titleLineHeight": 40, "titlePadding": 18}}, "x2": {"datum": 0.7},
        "y": {"field": "lo", "type": "quantitative", "scale": {"domain": [0, 2], "nice": false}, "axis": {"orient": "right", "values": [0, 0.5, 1, 1.5, 2], "format": ".1f", "labelFontSize": 48, "labelPadding": 20, "title": null, "domain": false, "ticks": false, "grid": false}}, "y2": {"field": "hi"}}},
      {"data": {"name": "hminor"}, "mark": {"type": "rule", "color": "#a8a8a8", "strokeWidth": 2.5, "strokeDash": [3, 2]}, "encoding": {"y": {"field": "v", "type": "quantitative", "scale": {"domain": [0, 2], "nice": false}}}},
      {"data": {"name": "hmajor"}, "mark": {"type": "rule", "color": "#666666", "strokeWidth": 2.5}, "encoding": {"y": {"field": "v", "type": "quantitative", "scale": {"domain": [0, 2], "nice": false}}}},
      {"data": {"name": "panels"}, "transform": [{"filter": "datum.p == 6"}], "mark": {"type": "point", "shape": "triangle-down", "filled": true, "color": "#0000ff", "size": 800, "opacity": 1}, "encoding": {"x": {"datum": 0.5, "type": "quantitative", "scale": {"domain": [0, 1], "nice": false}}, "y": {"field": "q15", "type": "quantitative", "scale": {"domain": [0, 2], "nice": false}}}},
      {"data": {"name": "panels"}, "transform": [{"filter": "datum.p == 6"}], "mark": {"type": "point", "shape": "square", "filled": true, "color": "#000000", "size": 420, "opacity": 1}, "encoding": {"x": {"datum": 0.5, "type": "quantitative", "scale": {"domain": [0, 1], "nice": false}}, "y": {"field": "q50", "type": "quantitative", "scale": {"domain": [0, 2], "nice": false}}}},
      {"data": {"name": "panels"}, "transform": [{"filter": "datum.p == 6"}], "mark": {"type": "point", "shape": "triangle-up", "filled": true, "color": "#0000ff", "size": 800, "opacity": 1}, "encoding": {"x": {"datum": 0.5, "type": "quantitative", "scale": {"domain": [0, 1], "nice": false}}, "y": {"field": "q85", "type": "quantitative", "scale": {"domain": [0, 2], "nice": false}}}},
      {"data": {"values": [{}]}, "mark": {"type": "rule", "color": "#333333", "strokeWidth": 3}, "encoding": {"x": {"datum": 0.5, "type": "quantitative", "scale": {"domain": [0, 1], "nice": false}}, "y": {"datum": 0, "type": "quantitative", "scale": {"domain": [0, 2], "nice": false}}, "y2": {"datum": 0.025}}},
      {"data": {"values": [{}]}, "mark": {"type": "rule", "color": "#333333", "strokeWidth": 3}, "encoding": {"x": {"datum": 0.5, "type": "quantitative", "scale": {"domain": [0, 1], "nice": false}}, "y": {"datum": 1.975, "type": "quantitative", "scale": {"domain": [0, 2], "nice": false}}, "y2": {"datum": 2}}},
      {"data": {"name": "hmajor"}, "mark": {"type": "rule", "color": "#333333", "strokeWidth": 4}, "encoding": {"x": {"datum": 0, "type": "quantitative", "scale": {"domain": [0, 1], "nice": false}}, "x2": {"datum": 0.055}, "y": {"field": "v", "type": "quantitative", "scale": {"domain": [0, 2], "nice": false}}}},
      {"data": {"name": "hmajor"}, "mark": {"type": "rule", "color": "#333333", "strokeWidth": 4}, "encoding": {"x": {"datum": 0.945, "type": "quantitative", "scale": {"domain": [0, 1], "nice": false}}, "x2": {"datum": 1}, "y": {"field": "v", "type": "quantitative", "scale": {"domain": [0, 2], "nice": false}}}}
     ]
    }
   ]
  }
 ]
}
